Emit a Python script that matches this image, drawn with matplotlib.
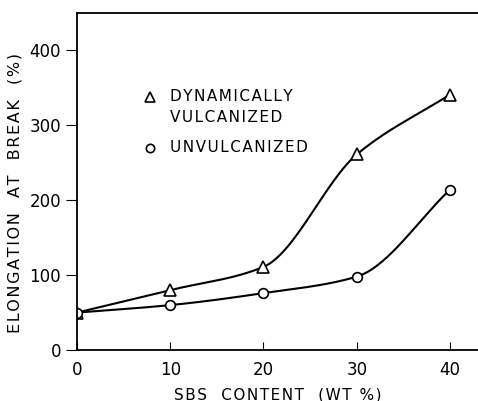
import numpy as np
import matplotlib.pyplot as plt

sbs_content = [0, 10, 20, 30, 40]
dyn_vulcanized = [50, 80, 111, 261, 341]
unvulcanized = [50, 60, 76, 98, 214]
x_ticks = [0, 10, 20, 30, 40]
y_ticks = [0, 100, 200, 300, 400]


def pchip(x, y, xs):
    # monotone cubic curve through the measured points
    x = np.asarray(x, float)
    y = np.asarray(y, float)
    h = np.diff(x)
    d = np.diff(y) / h
    m = np.zeros_like(y)
    for k in range(1, len(x) - 1):
        if d[k - 1] * d[k] > 0:
            w1 = 2 * h[k] + h[k - 1]
            w2 = h[k] + 2 * h[k - 1]
            m[k] = (w1 + w2) / (w1 / d[k - 1] + w2 / d[k])
    m[0] = d[0]
    m[-1] = d[-1]
    out = np.empty_like(xs)
    for i, xv in enumerate(xs):
        k = min(np.searchsorted(x, xv, side='right') - 1, len(x) - 2)
        t = (xv - x[k]) / h[k]
        h00 = 2 * t**3 - 3 * t**2 + 1
        h10 = t**3 - 2 * t**2 + t
        h01 = -2 * t**3 + 3 * t**2
        h11 = t**3 - t**2
        out[i] = h00 * y[k] + h10 * h[k] * m[k] + h01 * y[k + 1] + h11 * h[k] * m[k + 1]
    return out


def spaced(s):
    # loose letter spacing like the original typewriter lettering
    return '\u200a'.join(s)


plt.rcParams['font.family'] = ['DejaVu Sans']
fig = plt.figure(figsize=(4.78, 4.01), dpi=100)
ax = fig.add_axes([0.161, 0.127, 0.839, 0.841])

xs = np.linspace(0, 40, 300)
ax.plot(xs, pchip(sbs_content, dyn_vulcanized, xs), color='black', lw=1.5)
ax.plot(xs, pchip(sbs_content, unvulcanized, xs), color='black', lw=1.5)
ax.plot(sbs_content, dyn_vulcanized, linestyle='none', marker='^', ms=8,
        mfc='white', mec='black', mew=1.2)
ax.plot(sbs_content, unvulcanized, linestyle='none', marker='o', ms=7,
        mfc='white', mec='black', mew=1.2)

ax.set_xlim(0, 43)
ax.set_ylim(0, 450)
ax.set_xticks(x_ticks)
ax.set_yticks(y_ticks)
ax.tick_params(axis='x', direction='in', length=6, labelsize=12, pad=8)
ax.tick_params(axis='y', direction='out', length=8, labelsize=12)
ax.spines['right'].set_visible(False)
for s in ['left', 'bottom', 'top']:
    ax.spines[s].set_linewidth(1.3)

ax.set_xlabel(spaced('SBS  CONTENT  (WT %)'), fontsize=11, labelpad=6)
ax.set_ylabel(spaced('ELONGATION  AT  BREAK  (%)'), fontsize=11.5)
ax.yaxis.set_label_coords(-0.135, 0.466)

ax.plot([7.8], [338], marker='^', ms=7, mfc='white', mec='black', mew=1.2)
ax.text(10, 338, spaced('DYNAMICALLY'), fontsize=11, va='center', ha='left')
ax.text(10, 311, spaced('VULCANIZED'), fontsize=11, va='center', ha='left')
ax.plot([7.8], [270], marker='o', ms=6, mfc='white', mec='black', mew=1.2)
ax.text(10, 270, spaced('UNVULCANIZED'), fontsize=11, va='center', ha='left')

fig.savefig('out.png', dpi=100)
